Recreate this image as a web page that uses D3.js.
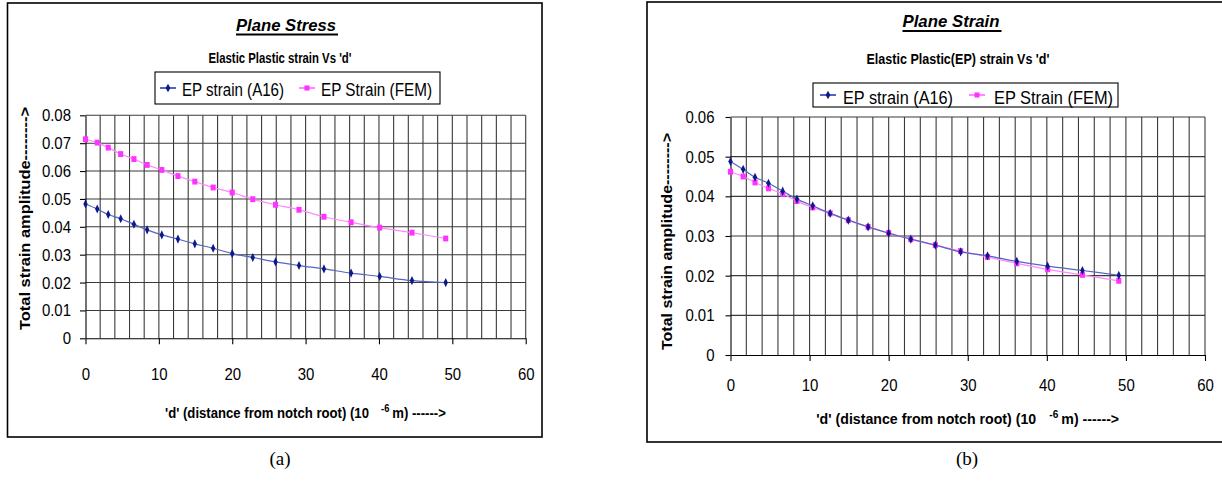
<!DOCTYPE html>
<meta charset="utf-8">
<style>
body { margin: 0; background: #fff; }
text { font-family: "Liberation Sans", Arial, sans-serif; fill: #000; }
.grid line { stroke: #3a3a3a; stroke-width: 1.1; }
.axis path, .axis line { stroke: #000; stroke-width: 1.1; }
.cap { font-family: "Liberation Serif", "Times New Roman", serif; }
</style>
<svg width="1222" height="484"></svg>
<script src="https://d3js.org/d3.v7.min.js"></script>
<script>

// distance from notch root (10^-6 m), same for every series
var dist = [0, 1.6, 3.1, 4.8, 6.6, 8.4, 10.4, 12.6, 14.9, 17.4, 20, 22.8, 25.9, 29.1, 32.5, 36.2, 40.1, 44.5, 49.1];

// (a) plane stress
var stressA16 = [0.0482, 0.0464, 0.0444, 0.0429, 0.0409, 0.0389, 0.0371, 0.0356, 0.0339, 0.0323, 0.0304, 0.0290, 0.0274, 0.0261, 0.0249, 0.0234, 0.0222, 0.0207, 0.0200];
var stressFEM = [0.0714, 0.0702, 0.0684, 0.0661, 0.0643, 0.0622, 0.0604, 0.0582, 0.0562, 0.0541, 0.0523, 0.0499, 0.0479, 0.0461, 0.0436, 0.0416, 0.0397, 0.0379, 0.0358];

// (b) plane strain
var strainA16 = [0.0488, 0.0468, 0.0448, 0.0433, 0.0413, 0.0393, 0.0376, 0.0357, 0.0340, 0.0323, 0.0307, 0.0292, 0.0277, 0.0260, 0.0250, 0.0236, 0.0224, 0.0213, 0.0201];
var strainFEM = [0.0462, 0.0450, 0.0435, 0.0420, 0.0406, 0.0388, 0.0372, 0.0357, 0.0340, 0.0323, 0.0308, 0.0292, 0.0277, 0.0262, 0.0247, 0.0231, 0.0216, 0.0202, 0.0187];

var seriesNames = ["EP strain (A16)", "EP Strain (FEM)"];
var xTicks = [0, 10, 20, 30, 40, 50, 60];
var yTicksStress = [0, 0.01, 0.02, 0.03, 0.04, 0.05, 0.06, 0.07, 0.08];
var yTicksStrain = [0, 0.01, 0.02, 0.03, 0.04, 0.05, 0.06];
var yTitle = "Total strain amplitude-------->";

var svg = d3.select("svg");

var charts = [
  { title: "Plane Stress", sub: "Elastic Plastic strain Vs 'd'", cap: "(a)",
    a16: stressA16, fem: stressFEM, yTicks: yTicksStress,
    frame: [7.5, 3, 534.5, 434], plot: [85.5, 525.7, 115.3, 338.3],
    titleX: 286, titleY: 30.5, titleW: 100, subX: 280, subY: 63, subW: 143,
    legend: [155, 72, 285, 32], leg1: 160, leg2: 299, legTxt1: 182, legTxt2: 321, legY: 95.5, legW: [102, 111],
    yTitleX: 25, yTitleY: 218.5, yTitleW: 223,
    xTitleY: 418, xTitleW: 281, tickPadX: 24, tickPadY: 9, yTick: 5.5, capX: 280 },
  { title: "Plane Strain", sub: "Elastic Plastic(EP) strain Vs 'd'", cap: "(b)",
    a16: strainA16, fem: strainFEM, yTicks: yTicksStrain,
    frame: [647, 2, 580, 440], plot: [730.5, 1205, 117, 355],
    titleX: 951, titleY: 27, titleW: 97, subX: 958, subY: 64, subW: 183,
    legend: [813, 83, 305, 24], leg1: 820, leg2: 969, legTxt1: 843, legTxt2: 994, legY: 104, legW: [110, 119],
    yTitleX: 667, yTitleY: 241.5, yTitleW: 217,
    xTitleY: 424, xTitleW: 303, tickPadX: 18, tickPadY: 11, yTick: 5, capX: 967 }
];

charts.forEach(drawChart);

// squeeze a text node to a target width (the source chart is horizontally condensed)
function squeeze(sel, factor) {
  sel.each(function() {
    var w = this.getComputedTextLength();
    d3.select(this).attr("textLength", w * factor).attr("lengthAdjust", "spacingAndGlyphs");
  });
}

function drawChart(c) {
  var g = svg.append("g");
  var ymax = d3.max(c.yTicks);

  g.append("rect")
      .attr("x", c.frame[0]).attr("y", c.frame[1])
      .attr("width", c.frame[2]).attr("height", c.frame[3])
      .attr("fill", "none").attr("stroke", "#000").attr("stroke-width", 1.6);

  var x = d3.scaleLinear().domain([0, 60]).range([c.plot[0], c.plot[1]]);
  var y = d3.scaleLinear().domain([0, ymax]).range([c.plot[3], c.plot[2]]);

  // grid
  var grid = g.append("g").attr("class", "grid");
  grid.selectAll(".h").data(c.yTicks.slice(1)).enter().append("line")
      .attr("x1", x(0)).attr("x2", x(60))
      .attr("y1", function(d) { return y(d); })
      .attr("y2", function(d) { return y(d); })
      .attr("stroke-width", 1.4);
  grid.selectAll(".v").data(d3.range(2, 61, 2)).enter().append("line")
      .attr("y1", y(0)).attr("y2", y(ymax))
      .attr("x1", function(d) { return x(d); })
      .attr("x2", function(d) { return x(d); })
      .attr("stroke", function(d, i) { return i % 2 ? "#000" : "#777"; });

  g.append("g").attr("class", "axis")
      .attr("transform", "translate(0," + y(0) + ")")
      .call(d3.axisBottom(x).tickValues(xTicks).tickSize(6).tickSizeOuter(0).tickPadding(c.tickPadX))
      .call(function(a) { a.selectAll("text").attr("font-size", 17).attr("font-family", null).call(squeeze, 0.88); });

  g.append("g").attr("class", "axis")
      .attr("transform", "translate(" + x(0) + ",0)")
      .call(d3.axisLeft(y).tickValues(c.yTicks).tickSize(c.yTick).tickSizeOuter(0).tickPadding(c.tickPadY)
        .tickFormat(function(d) { return d === 0 ? "0" : d3.format(".2f")(d); }))
      .call(function(a) { a.selectAll("text").attr("font-size", 17).attr("font-family", null).call(squeeze, 0.88); });

  // series
  var line = d3.line()
      .x(function(d) { return x(d[0]); })
      .y(function(d) { return y(d[1]); })
      .curve(d3.curveCatmullRom);

  var blue = dist.map(function(d, i) { return [d, c.a16[i]]; });
  var pink = dist.map(function(d, i) { return [d, c.fem[i]]; });

  g.append("path").datum(pink).attr("d", line)
      .attr("fill", "none").attr("stroke", "#ff88ff").attr("stroke-width", 1.2);
  g.append("path").datum(blue).attr("d", line)
      .attr("fill", "none").attr("stroke", "#5565c0").attr("stroke-width", 1.2);

  var sq = d3.symbol().type(d3.symbolSquare).size(26);
  var dia = d3.symbol().type(d3.symbolDiamond).size(20);

  g.selectAll(".pm").data(pink).enter().append("path")
      .attr("d", sq).attr("fill", "#ff33ff")
      .attr("transform", function(d) { return "translate(" + x(d[0]) + "," + y(d[1]) + ") scale(1,1.15)"; });
  g.selectAll(".bm").data(blue).enter().append("path")
      .attr("d", dia).attr("fill", "#0a1a8a")
      .attr("transform", function(d) { return "translate(" + x(d[0]) + "," + y(d[1]) + ") scale(0.9,1.1)"; });

  // titles
  g.append("text")
      .attr("x", c.titleX).attr("y", c.titleY)
      .attr("text-anchor", "middle")
      .attr("font-size", 17).attr("font-weight", "bold").attr("font-style", "italic")
      .attr("textLength", c.titleW).attr("lengthAdjust", "spacingAndGlyphs")
      .text(c.title);
  g.append("line")
      .attr("x1", c.titleX - c.titleW / 2).attr("x2", c.titleX + c.titleW / 2 + 2)
      .attr("y1", c.titleY + 4).attr("y2", c.titleY + 4)
      .attr("stroke", "#000").attr("stroke-width", 1.8);

  g.append("text")
      .attr("x", c.subX).attr("y", c.subY)
      .attr("text-anchor", "middle")
      .attr("font-size", 14).attr("font-weight", "bold")
      .attr("textLength", c.subW).attr("lengthAdjust", "spacingAndGlyphs")
      .text(c.sub);

  // legend
  g.append("rect")
      .attr("x", c.legend[0]).attr("y", c.legend[1])
      .attr("width", c.legend[2]).attr("height", c.legend[3])
      .attr("fill", "#fff").attr("stroke", "#000").attr("stroke-width", 1.1);
  var my = c.legend[1] + c.legend[3] / 2;
  [[c.leg1, c.legTxt1, "#5565c0", "#0a1a8a", dia], [c.leg2, c.legTxt2, "#ff88ff", "#ff33ff", sq]].forEach(function(l, i) {
    g.append("line").attr("x1", l[0]).attr("x2", l[0] + 16).attr("y1", my).attr("y2", my)
        .attr("stroke", l[2]).attr("stroke-width", 2);
    g.append("path").attr("d", l[4]).attr("fill", l[3])
        .attr("transform", "translate(" + (l[0] + 8) + "," + my + ")");
    g.append("text").attr("x", l[1]).attr("y", c.legY)
        .attr("font-size", 17.5)
        .attr("textLength", c.legW[i]).attr("lengthAdjust", "spacingAndGlyphs")
        .text(seriesNames[i]);
  });

  // axis titles
  g.append("text")
      .attr("transform", "translate(" + (c.yTitleX + 5) + "," + c.yTitleY + ") rotate(-90)")
      .attr("text-anchor", "middle")
      .attr("font-size", 14).attr("font-weight", "bold")
      .attr("textLength", c.yTitleW).attr("lengthAdjust", "spacingAndGlyphs")
      .text(yTitle);

  var xg = g.append("g");
  var xt = xg.append("text")
      .attr("x", 0).attr("y", 0)
      .attr("font-size", 14).attr("font-weight", "bold");
  xt.append("tspan").text("'d' (distance from notch root) (10");
  xt.append("tspan").attr("dx", 13).attr("dy", -6).attr("font-size", 10).text("-6");
  xt.append("tspan").attr("dx", 3).attr("dy", 6).text("m) ------>");
  var bw = xt.node().getBBox().width;
  var sx = c.xTitleW / bw;
  xg.attr("transform", "translate(" + ((c.plot[0] + c.plot[1]) / 2 - c.xTitleW / 2) + "," + c.xTitleY + ") scale(" + sx + ",1)");

  // caption
  svg.append("text").attr("class", "cap")
      .attr("x", c.capX).attr("y", 465)
      .attr("text-anchor", "middle").attr("font-size", 19)
      .text(c.cap);
}

</script>
